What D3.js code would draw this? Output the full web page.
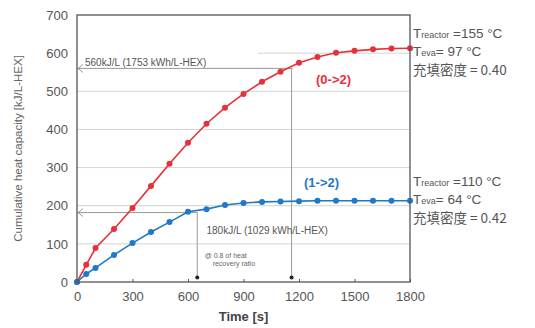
<!DOCTYPE html>
<html>
<head>
<style>
html, body {
    margin: 0;
    padding: 0;
    background: #fff;
    font-family: "Liberation Sans", Arial, sans-serif;
    overflow: hidden;
}
</style>
</head>
<body>
<script src="https://d3js.org/d3.v7.min.js"></script>
<script>
// time [s] and cumulative heat capacity [kJ/L-HEX]
const times = [0, 50, 100, 200, 300, 400, 500, 600, 700, 800, 900, 1000, 1100, 1200, 1300, 1400, 1500, 1600, 1700, 1800];
const red02 = [0, 45, 89, 139, 194, 252, 310, 365, 415, 457, 493, 525, 551, 575, 590, 601, 606, 610, 612, 613];
const blue12 = [0, 21, 37, 71, 102, 131, 157, 184, 191, 202, 207, 210, 211, 212, 213, 213, 213, 213, 213, 213];
const xTicks = [0, 300, 600, 900, 1200, 1500, 1800];
const yTicks = [0, 100, 200, 300, 400, 500, 600, 700];

const [width, height] = [535, 328];
const margin = {top: 15, right: 125, bottom: 46, left: 77};

const svg = d3.select("body").append("svg")
    .attr("width", width)
    .attr("height", height);

const x = d3.scaleLinear().domain([0, 1800]).range([margin.left, width - margin.right]);
const y = d3.scaleLinear().domain([0, 700]).range([height - margin.bottom, margin.top]);

// gridlines
svg.append("g")
    .selectAll("line")
    .data(yTicks.slice(1, -1))
    .join("line")
        .attr("x1", x(0)).attr("x2", x(1800))
        .attr("y1", d => y(d)).attr("y2", d => y(d))
        .attr("stroke", "#d4d4d4");

// annotation lines
const ann = svg.append("g").attr("stroke", "#9a9a9a").attr("fill", "none");
ann.append("line")
    .attr("x1", x(0)).attr("x2", x(1165))
    .attr("y1", y(560)).attr("y2", y(560));
ann.append("line")
    .attr("x1", x(1160)).attr("x2", x(1160))
    .attr("y1", y(560)).attr("y2", y(8));
ann.append("line")
    .attr("x1", x(0)).attr("x2", x(650))
    .attr("y1", y(182)).attr("y2", y(182));
ann.append("line")
    .attr("x1", x(650)).attr("x2", x(650))
    .attr("y1", y(182)).attr("y2", y(8));
// arrow heads
ann.selectAll("path.head")
    .data([560, 182])
    .join("path")
        .attr("d", d => `M${x(0) + 6},${y(d) - 4} L${x(0) + 1},${y(d)} L${x(0) + 6},${y(d) + 4}`);
svg.selectAll("circle.dot")
    .data([650, 1160])
    .join("circle")
        .attr("cx", d => x(d)).attr("cy", y(12))
        .attr("r", 2).attr("fill", "#222");

// text box hiding grid at 600
svg.append("rect")
    .attr("x", x(0) + 1).attr("y", y(600) - 6)
    .attr("width", 180).attr("height", 14)
    .attr("fill", "#fff");
svg.append("text")
    .attr("x", x(0) + 8).attr("y", y(566))
    .attr("font-size", 10).attr("fill", "#555")
    .text("560kJ/L  (1753 kWh/L-HEX)");
svg.append("text")
    .attr("x", x(700)).attr("y", y(125))
    .attr("font-size", 10).attr("fill", "#555")
    .text("180kJ/L  (1029 kWh/L-HEX)");
svg.append("text")
    .attr("font-size", 7).attr("fill", "#666")
    .selectAll("tspan")
    .data(["@ 0.8 of heat", "recovery ratio"])
    .join("tspan")
        .attr("x", (d, i) => x(690) + i * 8)
        .attr("y", (d, i) => y(62) + i * 8)
        .text(d => d);

// series
const line = d3.line().x((d, i) => x(times[i])).y(d => y(d));
const series = [
    {vals: red02, color: "#e8303a"},
    {vals: blue12, color: "#1f78c8"}
];
series.forEach(s => {
    svg.append("path")
        .datum(s.vals)
        .attr("d", line)
        .attr("fill", "none")
        .attr("stroke", s.color)
        .attr("stroke-width", 1.6);
    svg.append("g")
        .selectAll("circle")
        .data(s.vals)
        .join("circle")
            .attr("cx", (d, i) => x(times[i]))
            .attr("cy", d => y(d))
            .attr("r", 3)
            .attr("fill", s.color);
});

// frame
svg.append("rect")
    .attr("x", x(0)).attr("y", y(700))
    .attr("width", x(1800) - x(0)).attr("height", y(0) - y(700))
    .attr("fill", "none").attr("stroke", "#555").attr("stroke-width", 1.3);

// axes
const xAxis = svg.append("g")
    .attr("transform", `translate(0,${y(0)})`)
    .call(d3.axisBottom(x).tickValues(xTicks).tickFormat(d3.format("d"))
        .tickSizeInner(-3).tickSizeOuter(0).tickPadding(10));
const yAxis = svg.append("g")
    .attr("transform", `translate(${x(0)},0)`)
    .call(d3.axisLeft(y).tickValues(yTicks).tickSize(0).tickPadding(9));
[xAxis, yAxis].forEach(a => {
    a.select(".domain").remove();
    a.selectAll("line").attr("stroke", "#555");
    a.selectAll("text").attr("font-size", 13).attr("fill", "#555")
        .attr("font-family", "'Liberation Sans', Arial, sans-serif");
});

svg.append("text")
    .attr("x", (x(0) + x(1800)) / 2).attr("y", 321)
    .attr("text-anchor", "middle")
    .attr("font-size", 13).attr("font-weight", "bold").attr("fill", "#444")
    .text("Time [s]");
svg.append("text")
    .attr("transform", `translate(22,${(y(0) + y(700)) / 2}) rotate(-90)`)
    .attr("text-anchor", "middle")
    .attr("font-size", 11.5).attr("fill", "#666")
    .text("Cumulative heat capacity [kJ/L-HEX]");

// series labels
svg.append("text")
    .attr("x", 316).attr("y", y(520))
    .attr("font-size", 13).attr("font-weight", "bold").attr("fill", "#e8303a")
    .text("(0->2)");
svg.append("text")
    .attr("x", 304).attr("y", y(250))
    .attr("font-size", 13).attr("font-weight", "bold").attr("fill", "#1f78c8")
    .text("(1->2)");

// condition blocks
const conds = [
    {top: 38, tr: "155", te: "97", rho: "0.40"},
    {top: 186, tr: "110", te: "64", rho: "0.42"}
];
conds.forEach(c => {
    const g = svg.append("g")
        .attr("font-size", 13.5).attr("fill", "#555")
        .attr("font-family", "'Liberation Sans', 'Noto Sans CJK JP', sans-serif");
    const t1 = g.append("text").attr("x", 413).attr("y", c.top);
    t1.append("tspan").text("T");
    t1.append("tspan").attr("font-size", 9).text("reactor");
    t1.append("tspan").text(` =${c.tr} \u00b0C`);
    const t2 = g.append("text").attr("x", 413).attr("y", c.top + 18);
    t2.append("tspan").text("T");
    t2.append("tspan").attr("font-size", 9).text("eva");
    t2.append("tspan").text(`= ${c.te} \u00b0C`);
    g.append("text").attr("x", 413).attr("y", c.top + 37)
        .attr("font-family", "'Noto Sans CJK JP', sans-serif")
        .text(`充填密度 = ${c.rho}`);
});
</script>
</body>
</html>
